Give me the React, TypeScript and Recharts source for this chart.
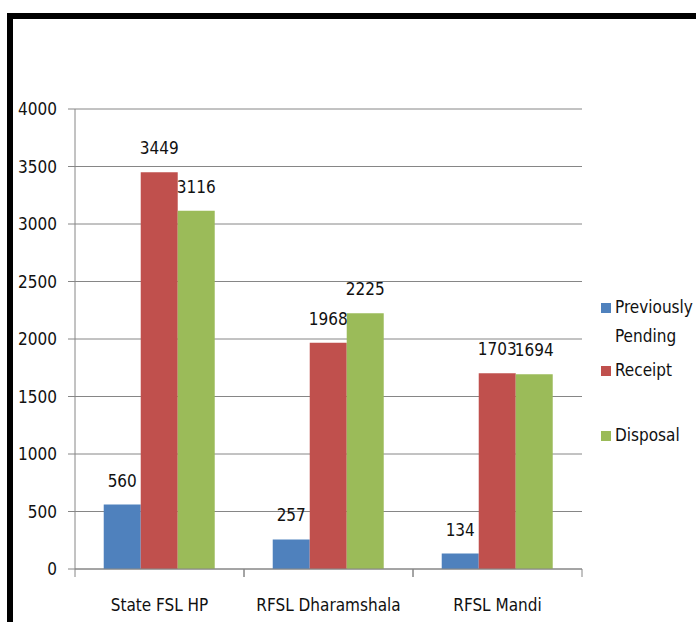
import { Bar, BarChart, CartesianGrid, LabelList, XAxis, YAxis } from "recharts";

const labs = ["State FSL HP", "RFSL Dharamshala", "RFSL Mandi"];
const pending = [560, 257, 134];
const receipt = [3449, 1968, 1703];
const disposal = [3116, 2225, 1694];
const yTicks = [0, 500, 1000, 1500, 2000, 2500, 3000, 3500, 4000];

const FONT = '"Liberation Sans Narrow", "DejaVu Sans Condensed", sans-serif';
const AXIS = "#868686";
const FS = 17;

const rows = labs.map((lab, i) => ({
  lab,
  pending: pending[i],
  receipt: receipt[i],
  disposal: disposal[i],
}));

// category ticks sit in the middle, but the tick marks go on the band edges
function CatTick(props: any) {
  const { x, y, payload } = props;
  const half = payload?.offset ?? 84.5;
  return (
    <g>
      <line x1={x - half} x2={x - half} y1={y - 8} y2={y} stroke={AXIS} />
      <line x1={x + half} x2={x + half} y1={y - 8} y2={y} stroke={AXIS} />
      <text x={x} y={y + 34} textAnchor="middle" fontSize={FS} fontFamily={FONT} fill="#111">
        {payload.value}
      </text>
    </g>
  );
}

function Key() {
  const sq = (c: string) => (
    <span style={{ display: "inline-block", width: 10, height: 10, background: c, marginRight: 4, verticalAlign: "0px" }} />
  );
  const row = { fontFamily: FONT, fontSize: FS, color: "#111", whiteSpace: "nowrap" as const, lineHeight: "29px" };
  return (
    <div style={{ position: "absolute", left: 601, top: 293, width: 95, overflow: "hidden" }}>
      <div style={row}>{sq("#4F81BD")}Previously</div>
      <div style={{ ...row, paddingLeft: 14 }}>Pending</div>
      <div style={{ ...row, marginTop: 5 }}>{sq("#C0504D")}Receipt</div>
      <div style={{ ...row, marginTop: 36 }}>{sq("#9BBB59")}Disposal</div>
    </div>
  );
}

export default function App() {
  return (
    <div style={{ position: "absolute", left: 0, top: 0, width: 696, height: 622, background: "#fff", overflow: "hidden" }}>
      <div
        style={{
          position: "absolute",
          left: 7,
          top: 13,
          width: 700,
          height: 620,
          borderTop: "6px solid #000",
          borderLeft: "6px solid #000",
        }}
      />
      <BarChart
        width={696}
        height={622}
        data={rows}
        margin={{ top: 109, right: 114, bottom: 0, left: 0 }}
        barCategoryGap="17%"
        barGap={0}
      >
        <CartesianGrid vertical={false} stroke={AXIS} />
        <XAxis
          dataKey="lab"
          height={53}
          stroke={AXIS}
          tickLine={false}
          tick={<CatTick />}
          interval={0}
        />
        <YAxis
          width={75}
          domain={[0, 4000]}
          ticks={yTicks}
          stroke={AXIS}
          tickSize={7}
          tickMargin={11}
          tick={{ fontSize: FS, fontFamily: FONT, fill: "#111" }}
        />
        <Bar dataKey="pending" fill="#4F81BD" isAnimationActive={false}>
          <LabelList dataKey="pending" position="top" offset={18} fontSize={FS} fontFamily={FONT} fill="#111" />
        </Bar>
        <Bar dataKey="receipt" fill="#C0504D" isAnimationActive={false}>
          <LabelList dataKey="receipt" position="top" offset={18} fontSize={FS} fontFamily={FONT} fill="#111" />
        </Bar>
        <Bar dataKey="disposal" fill="#9BBB59" isAnimationActive={false}>
          <LabelList dataKey="disposal" position="top" offset={18} fontSize={FS} fontFamily={FONT} fill="#111" />
        </Bar>
      </BarChart>
      <Key />
    </div>
  );
}
